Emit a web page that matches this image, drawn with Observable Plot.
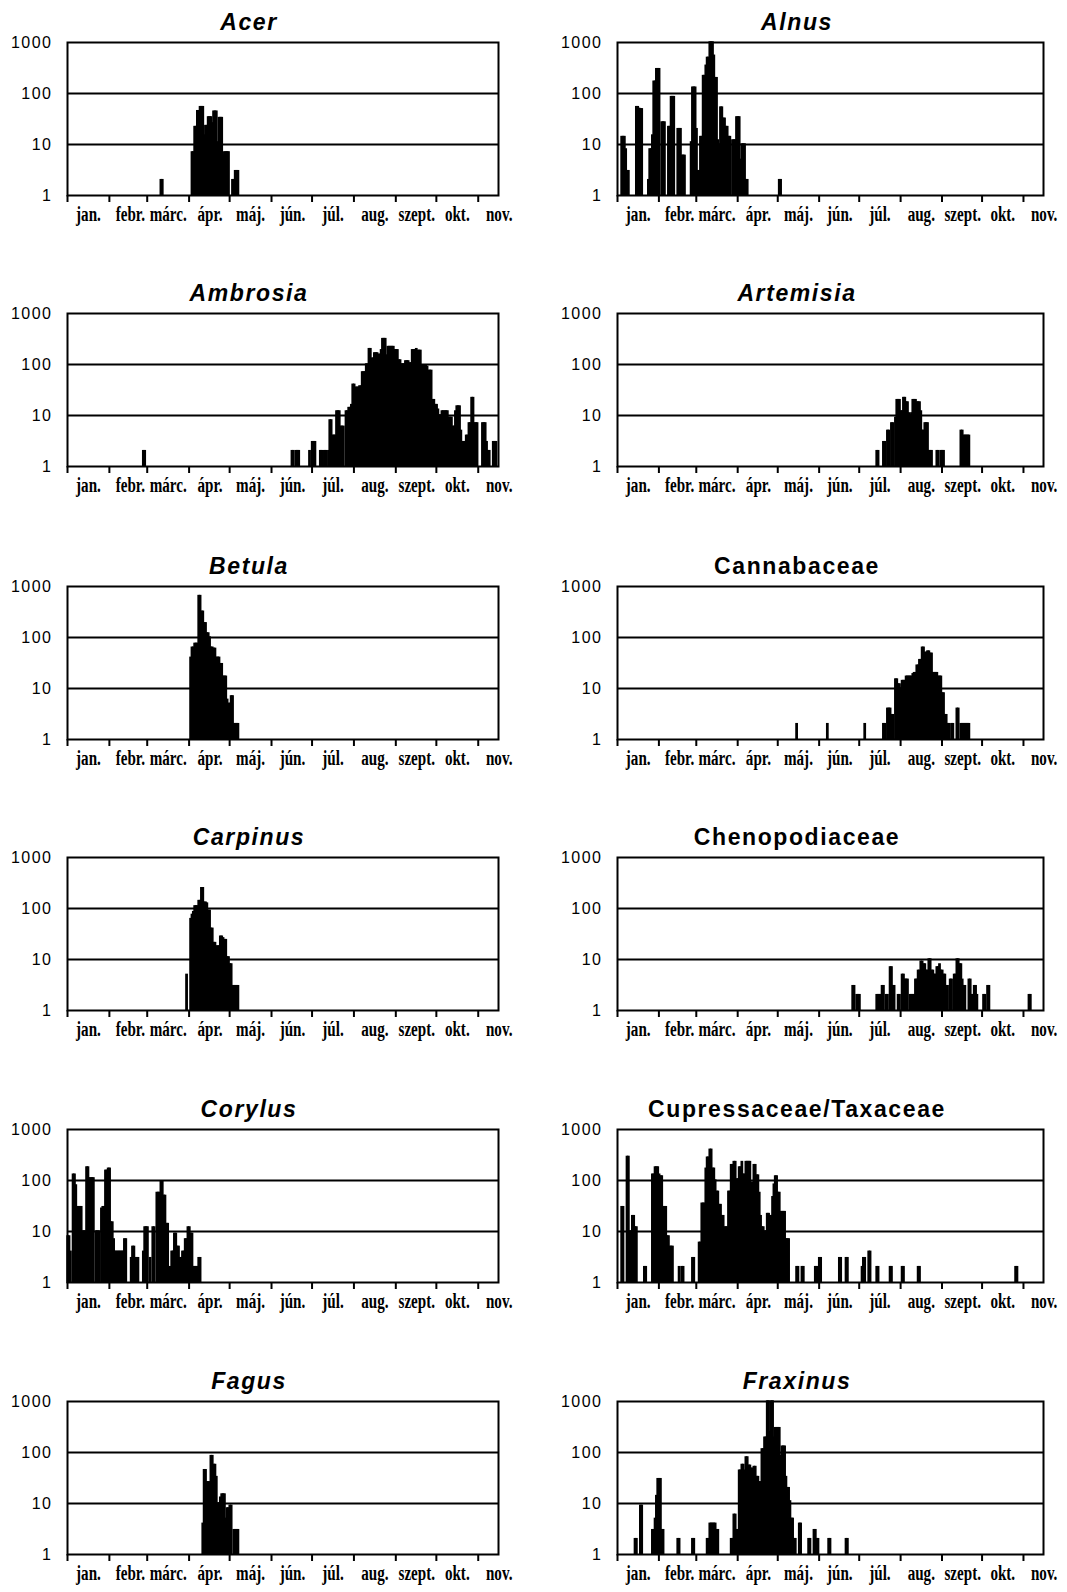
<!DOCTYPE html>
<html><head><meta charset="utf-8">
<script src="https://cdn.jsdelivr.net/npm/d3@7"></script>
<script src="https://cdn.jsdelivr.net/npm/@observablehq/plot@0.6"></script>
<style>
html,body{margin:0;padding:0;background:#fff}
body{width:1067px;height:1592px;position:relative;overflow:hidden}
.title{position:absolute;font-family:"Liberation Sans",Arial,sans-serif;font-weight:bold;font-size:23px;letter-spacing:1.6px;white-space:nowrap;line-height:22px;transform:translateX(-50%)}
.title.it{font-style:italic}
svg{position:absolute}
</style></head><body>
<script>
// x axis: day of year (0 = 1 January)
const monthLabels = ["jan.","febr.","márc.","ápr.","máj.","jún.","júl.","aug.","szept.","okt.","nov."];
const monthStarts = [0,31,59,90,120,151,181,212,243,273,304];
const yTicks = [1,10,100,1000];
const gridValues = [10,100];

// daily pollen counts: [day, value]
const acer = [[69,2],[70,2],[92,7],[93,7],[94,22],[95,22],[96,45],[97,45],[98,54],[99,54],[100,54],[101,15],[102,23],[103,23],[104,34],[105,34],[106,34],[107,26],[108,44],[109,44],[110,44],[111,11],[112,33],[113,33],[114,33],[115,6],[116,7],[117,7],[118,7],[119,7],[122,2],[123,2],[124,3],[125,3],[126,3]];
const alnus = [[3,14],[4,14],[5,14],[6,8],[7,3],[8,3],[14,54],[15,54],[16,50],[17,49],[18,49],[23,2],[24,8],[25,8],[26,15],[27,170],[28,170],[29,300],[30,300],[31,300],[33,27],[34,27],[35,27],[38,22],[39,22],[40,85],[41,85],[42,85],[45,20],[46,20],[47,20],[48,6],[49,6],[50,6],[55,11],[56,130],[57,130],[58,130],[59,20],[60,3],[61,3],[62,14],[63,14],[64,220],[65,220],[66,350],[67,500],[68,500],[69,1000],[70,1000],[71,1000],[72,550],[73,200],[74,200],[75,12],[76,10],[77,53],[78,53],[79,32],[80,32],[81,22],[82,22],[83,14],[84,14],[86,12],[87,12],[88,12],[89,34],[90,34],[91,34],[92,5],[93,10],[94,10],[95,10],[96,2],[97,2],[121,2],[122,2]];
const ambrosia = [[56,2],[57,2],[166,2],[167,2],[169,2],[170,2],[171,2],[179,2],[181,3],[182,3],[183,3],[187,2],[188,2],[190,2],[191,2],[193,2],[194,8],[195,8],[196,4],[197,4],[198,4],[199,12],[200,12],[201,12],[202,6],[203,6],[204,6],[206,12],[207,12],[208,14],[209,14],[210,16],[211,40],[212,40],[213,35],[214,35],[215,35],[216,37],[217,37],[218,70],[219,70],[220,70],[221,100],[222,100],[223,200],[224,200],[225,130],[226,130],[227,165],[228,165],[229,165],[230,155],[231,155],[232,190],[233,315],[234,315],[235,315],[236,150],[237,220],[238,220],[239,220],[240,220],[241,220],[242,190],[243,190],[244,190],[245,120],[246,120],[247,100],[248,100],[249,100],[250,115],[251,115],[252,115],[253,105],[254,105],[255,190],[256,190],[257,190],[258,200],[259,185],[260,185],[261,185],[262,95],[263,95],[264,95],[265,95],[266,90],[267,75],[268,75],[269,75],[270,20],[271,20],[272,16],[273,16],[274,13],[275,10],[276,10],[277,12],[278,12],[279,12],[280,12],[281,12],[282,9],[283,9],[284,9],[285,6],[286,6],[287,12],[288,15],[289,15],[290,15],[291,5],[292,3],[293,3],[294,3],[295,4],[296,4],[297,7],[298,7],[299,22],[300,22],[301,7],[302,7],[303,7],[307,7],[308,7],[309,7],[310,3],[311,2],[312,2],[315,3],[316,3],[317,3]];
const artemisia = [[194,2],[195,2],[199,3],[200,3],[202,5],[203,5],[205,7],[206,7],[208,9],[209,20],[210,20],[211,20],[212,12],[213,12],[214,22],[215,22],[216,18],[217,18],[218,11],[219,10],[220,11],[221,20],[222,20],[223,20],[224,18],[225,18],[226,18],[227,12],[228,5],[229,5],[230,7],[231,7],[232,7],[233,2],[234,2],[235,2],[239,2],[240,2],[242,2],[243,2],[244,2],[257,5],[258,5],[259,4],[260,4],[261,4],[262,4],[263,4]];
const betula = [[91,40],[92,63],[93,63],[94,75],[95,75],[96,75],[97,650],[98,650],[99,320],[100,320],[101,190],[102,190],[103,120],[104,120],[105,100],[106,63],[107,63],[108,60],[109,60],[110,40],[111,40],[112,40],[113,30],[114,30],[115,17],[116,17],[117,17],[118,6],[119,5],[120,5],[121,7],[122,7],[123,2],[124,2],[125,2],[126,2]];
const cannabaceae = [[134,2],[157,2],[185,2],[199,2],[200,2],[202,4],[203,4],[204,4],[205,3],[206,3],[208,15],[209,15],[210,12],[211,12],[212,10],[213,14],[214,14],[215,14],[216,17],[217,17],[218,17],[219,17],[220,17],[221,19],[222,20],[223,20],[224,28],[225,28],[226,36],[227,36],[228,63],[229,63],[230,50],[231,50],[232,53],[233,53],[234,48],[235,48],[236,20],[237,20],[238,20],[239,20],[240,17],[241,17],[242,17],[243,8],[244,8],[245,3],[246,3],[247,2],[248,2],[250,2],[251,2],[254,4],[255,4],[257,2],[258,2],[259,2],[260,2],[261,2],[262,2],[263,2]];
const carpinus = [[88,5],[91,62],[92,75],[93,85],[94,110],[95,110],[96,110],[97,140],[98,140],[99,250],[100,250],[101,130],[102,130],[103,125],[104,90],[105,90],[106,40],[107,40],[108,21],[109,21],[110,18],[111,18],[112,18],[113,28],[114,28],[115,26],[116,24],[117,24],[118,11],[119,11],[120,8],[121,8],[122,3],[123,3],[124,3],[125,3],[126,3]];
const chenopodiaceae = [[176,3],[177,3],[179,2],[180,2],[181,2],[194,2],[195,2],[196,2],[197,2],[198,3],[199,3],[201,2],[202,2],[204,7],[205,7],[206,3],[207,3],[210,2],[211,2],[213,5],[214,5],[215,4],[216,4],[217,4],[219,2],[220,2],[221,2],[222,2],[223,4],[224,4],[225,6],[226,6],[227,9],[228,9],[229,8],[230,8],[231,6],[232,6],[233,10],[234,10],[235,6],[236,6],[237,5],[238,5],[239,7],[240,7],[241,8],[242,6],[243,6],[244,5],[245,5],[246,3],[247,3],[249,4],[250,4],[252,5],[253,5],[254,10],[255,10],[256,8],[257,8],[258,4],[259,3],[260,3],[263,4],[264,4],[265,2],[266,2],[267,3],[268,3],[269,2],[274,2],[275,2],[277,3],[278,3],[308,2],[309,2]];
const corylus = [[0,8],[1,8],[2,4],[4,130],[5,130],[6,80],[7,30],[8,30],[9,30],[10,30],[11,10],[12,10],[13,10],[14,180],[15,180],[16,110],[17,110],[18,110],[19,110],[21,10],[22,10],[23,10],[25,28],[26,30],[27,30],[28,155],[29,155],[30,170],[31,170],[32,15],[33,15],[34,7],[35,4],[36,4],[37,4],[38,4],[39,4],[40,4],[41,4],[42,7],[43,7],[47,3],[48,5],[49,5],[50,3],[51,3],[52,3],[56,4],[57,12],[58,12],[59,12],[61,3],[63,12],[64,12],[66,57],[67,57],[68,57],[69,95],[70,95],[71,50],[72,50],[73,14],[74,14],[76,2],[77,4],[78,4],[79,9],[80,9],[81,5],[82,5],[83,3],[84,3],[85,4],[86,4],[87,7],[88,7],[89,12],[90,12],[91,9],[92,9],[93,2],[94,2],[95,2],[96,2],[97,3],[98,3]];
const cupressaceae = [[3,30],[4,30],[7,290],[8,290],[9,10],[10,10],[11,20],[12,20],[13,12],[14,12],[20,2],[21,2],[26,130],[27,130],[28,180],[29,180],[30,180],[31,130],[32,120],[33,120],[34,30],[35,30],[36,30],[37,8],[38,8],[39,5],[40,5],[41,5],[46,2],[48,2],[49,2],[56,3],[57,3],[61,6],[62,6],[63,35],[64,35],[65,35],[66,170],[67,280],[68,280],[69,400],[70,400],[71,170],[72,170],[73,100],[74,60],[75,60],[76,33],[77,33],[78,20],[79,20],[80,12],[81,12],[82,12],[83,60],[84,60],[85,200],[86,200],[87,230],[88,230],[89,105],[90,105],[91,180],[92,180],[93,230],[94,130],[95,130],[96,230],[97,230],[98,230],[99,230],[100,90],[101,90],[102,200],[103,200],[104,125],[105,125],[106,57],[107,20],[108,12],[109,12],[110,10],[111,10],[112,22],[113,22],[114,20],[115,20],[116,47],[117,83],[118,120],[119,120],[120,57],[121,57],[122,24],[123,24],[124,24],[125,24],[126,7],[127,7],[128,7],[134,2],[135,2],[138,2],[139,2],[148,2],[149,2],[151,3],[152,3],[166,3],[167,3],[171,3],[172,3],[183,2],[184,3],[185,3],[188,4],[189,4],[194,2],[195,2],[204,2],[205,2],[213,2],[214,2],[225,2],[226,2],[298,2],[299,2]];
const fagus = [[100,4],[101,45],[102,45],[103,26],[104,26],[105,26],[106,85],[107,85],[108,57],[109,57],[110,33],[111,10],[112,10],[113,13],[114,15],[115,15],[116,15],[117,5],[118,8],[119,8],[120,9],[121,9],[123,3],[124,3],[125,3],[126,3]];
const fraxinus = [[13,2],[14,2],[17,9],[18,9],[26,3],[27,3],[28,5],[29,14],[30,30],[31,30],[32,30],[33,3],[34,3],[45,2],[46,2],[56,2],[57,2],[67,2],[68,2],[69,4],[70,4],[71,4],[72,4],[73,4],[74,3],[75,3],[85,2],[86,2],[87,6],[88,6],[89,3],[90,3],[91,44],[92,44],[93,57],[94,57],[95,44],[96,80],[97,80],[98,55],[99,55],[100,48],[101,48],[102,52],[103,52],[104,33],[105,33],[106,26],[107,26],[108,115],[109,115],[110,195],[111,195],[112,1000],[113,1000],[114,250],[115,1000],[116,1000],[117,195],[118,300],[119,300],[120,300],[121,300],[122,85],[123,130],[124,130],[125,130],[126,33],[127,20],[128,20],[129,11],[130,5],[131,5],[132,2],[133,2],[136,4],[137,4],[143,2],[144,2],[147,3],[148,3],[149,2],[150,2],[158,2],[159,2],[171,2],[172,2]];

const panels = [
  {name:"Acer", italic:true, data:acer},
  {name:"Alnus", italic:true, data:alnus},
  {name:"Ambrosia", italic:true, data:ambrosia},
  {name:"Artemisia", italic:true, data:artemisia},
  {name:"Betula", italic:true, data:betula},
  {name:"Cannabaceae", italic:false, data:cannabaceae},
  {name:"Carpinus", italic:true, data:carpinus},
  {name:"Chenopodiaceae", italic:false, data:chenopodiaceae},
  {name:"Corylus", italic:true, data:corylus},
  {name:"Cupressaceae/Taxaceae", italic:false, data:cupressaceae},
  {name:"Fagus", italic:true, data:fagus},
  {name:"Fraxinus", italic:true, data:fraxinus}
];

const cols = [
  {left:0, width:520, ml:67, mr:22, tc:249},
  {left:540, width:527, ml:77, mr:24, tc:797}
];
const frameTops = [42, 313, 586, 857, 1129, 1401];
const FH = 153, MT = 10, MB = 40;

panels.forEach((p, i) => {
  const col = cols[i % 2];
  const top = frameTops[Math.floor(i / 2)];
  const svg = Plot.plot({
    width: col.width,
    height: MT + FH + MB,
    marginTop: MT, marginBottom: MB, marginLeft: col.ml, marginRight: col.mr,
    style: {background: "transparent", color: "black", overflow: "visible"},
    x: {domain: [0, 319]},
    y: {type: "log", domain: [1, 1000]},
    marks: [
      Plot.rect(p.data, {x1: d => d[0], x2: d => d[0] + 1, y1: 1, y2: d => d[1], fill: "black", stroke: "black", strokeWidth: 1.4}),
      Plot.ruleY(gridValues, {stroke: "black", strokeWidth: 2}),
      Plot.frame({stroke: "black", strokeWidth: 2}),
      Plot.axisY(yTicks, {tickSize: 0, tickPadding: 15, tickFormat: d => String(d), fontSize: 16, fontFamily: "Liberation Sans, Arial, sans-serif", label: null}),
      Plot.axisX(monthStarts, {tickSize: 7, strokeWidth: 2, fill: "none", label: null}),
      Plot.axisX(monthStarts.map(d => d + 15.5), {tickSize: 0, tickPadding: 11, tickFormat: d => monthLabels[monthStarts.indexOf(d - 15.5)], fontSize: 21, fontWeight: "bold", fontFamily: "Liberation Serif, Times New Roman, serif", label: null})
    ]
  });
  svg.style.left = col.left + "px";
  svg.style.top = (top - MT) + "px";
  svg.querySelectorAll('g[aria-label="y-axis tick label"]').forEach(g => g.setAttribute("letter-spacing", "1.5"));
  svg.querySelectorAll('g[aria-label="x-axis tick label"] text').forEach(t => {
    const tr = t.getAttribute("transform") || "";
    t.setAttribute("transform", tr + " scale(0.72,1)");
  });
  document.body.appendChild(svg);
  const title = document.createElement("div");
  title.className = "title" + (p.italic ? " it" : "");
  title.textContent = p.name;
  title.style.left = col.tc + "px";
  title.style.top = (top - 31) + "px";
  document.body.appendChild(title);
});
</script>
</body></html>
